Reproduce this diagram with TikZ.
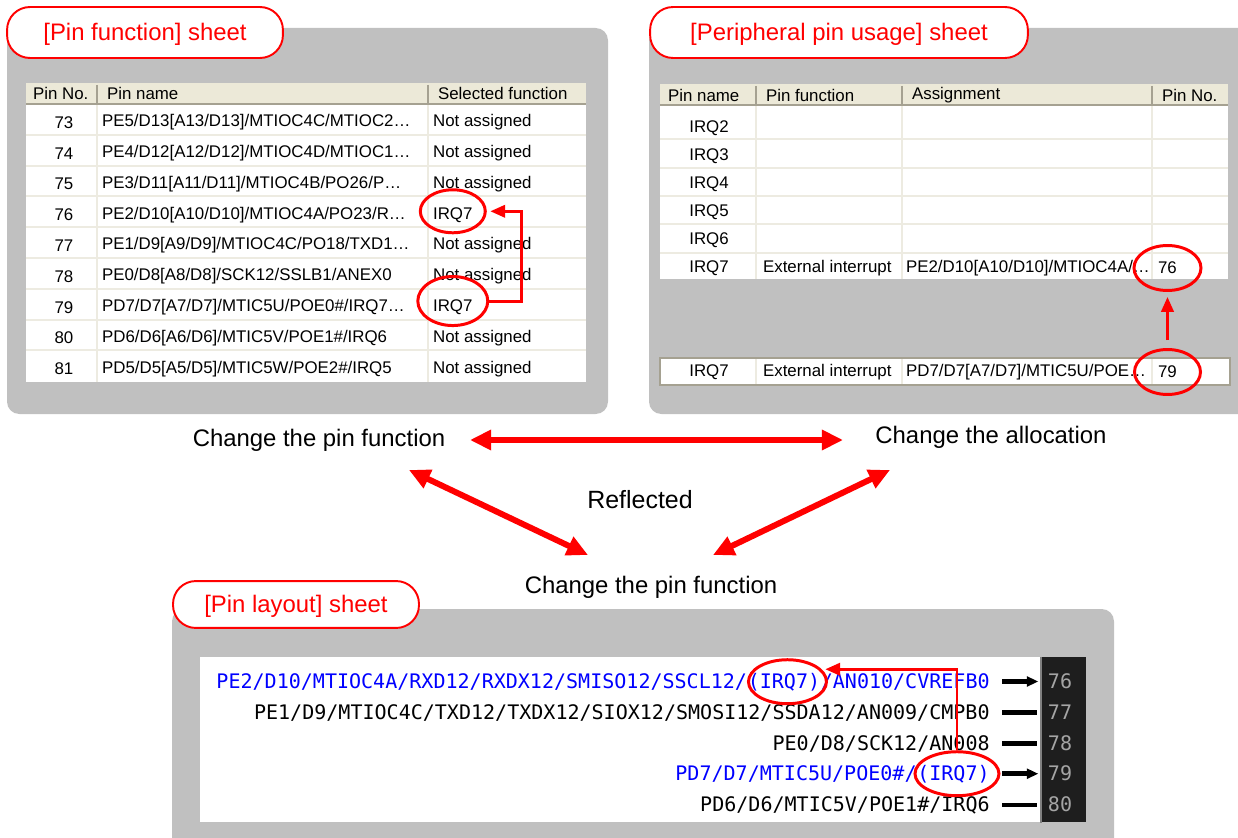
\documentclass[tikz,border=0pt]{standalone}
\usepackage{fontspec}
\setmainfont{Liberation Sans}
\newfontfamily\pinfont{DejaVu Sans Mono}
\usepackage{xcolor}
\usetikzlibrary{shapes.geometric, arrows.meta, positioning, calc}

\definecolor{panelgray}{RGB}{192,192,192}
\definecolor{headfill}{RGB}{236,233,216}
\definecolor{gridbeige}{RGB}{237,235,225}
\definecolor{headedge}{RGB}{165,161,145}
\definecolor{stripdark}{RGB}{30,30,30}
\definecolor{numgray}{RGB}{165,165,165}
\definecolor{pinblue}{RGB}{0,0,255}

\begin{document}
\begin{tikzpicture}[
    x=0.02cm, y=-0.02cm,
    panel/.style={fill=panelgray, rounded corners=7pt},
    sheettab/.style={draw=red, line width=1.1pt, fill=white, rounded corners=13pt, text=red, font=\fontsize{13.6}{16}\selectfont, minimum height=29pt, text height=10pt, text depth=1pt},
    txt/.style={font=\fontsize{13.6}{16}\selectfont},
    cell/.style={font=\fontsize{9.6}{11}\selectfont, inner sep=1pt},
    gridline/.style={draw=gridbeige, line width=1.1pt},
    headsep/.style={draw=headedge, line width=1.1pt},
    pinline/.style={font=\pinfont\fontsize{11.4}{13}\selectfont, inner xsep=0pt, inner ysep=1pt},
    pinnum/.style={font=\pinfont\fontsize{11.4}{13}\selectfont, text=numgray},
    ring/.style={ellipse, draw=red, line width=1.7pt, inner sep=0pt},
    redarrow/.style={-{Triangle[length=8.5pt,width=7pt]}, draw=red, line width=1.7pt},
    bigarrow/.style={{Triangle[length=12pt,width=11pt]}-{Triangle[length=12pt,width=11pt]}, draw=red, line width=3.4pt},
    stub/.style={line width=2.6pt},
    stubarrow/.style={stub, -{Triangle[length=6.5pt,width=5.5pt]}}
]
    \useasboundingbox (0,0) rectangle (1238,838);
    \clip (0,0) rectangle (1238,838);

    % Pin function sheet
    \fill[panel] (7,28) rectangle (608,414);
    \fill[white] (26,83) rectangle (586,382);
    \fill[headfill] (26,83) rectangle (586,104);
    \foreach \i in {1,...,8}
        \draw[gridline] (26,{104+30.8*\i}) -- (586,{104+30.8*\i});
    \foreach \x in {97,428} {
        \draw[gridline] (\x,104) -- (\x,382);
        \draw[headsep] (\x,85) -- (\x,103);
    }
    \draw[headsep] (26,104) -- (586,104);
    \node[cell, anchor=west] (hpno) at (31,93) {Pin No.};
    \node[cell, anchor=west] (hpname) at (105,93) {Pin name};
    \node[cell, anchor=west] (hsel) at (436,93) {Selected function};
    \foreach \num/\pname/\func [count=\i from 0] in {
        73/{PE5/D13[A13/D13]/MTIOC4C/MTIOC2…}/{Not assigned},
        74/{PE4/D12[A12/D12]/MTIOC4D/MTIOC1…}/{Not assigned},
        75/{PE3/D11[A11/D11]/MTIOC4B/PO26/P…}/{Not assigned},
        76/{PE2/D10[A10/D10]/MTIOC4A/PO23/R…}/IRQ7,
        77/{PE1/D9[A9/D9]/MTIOC4C/PO18/TXD1…}/{Not assigned},
        78/{PE0/D8[A8/D8]/SCK12/SSLB1/ANEX0}/{Not assigned},
        79/{PD7/D7[A7/D7]/MTIC5U/POE0\#/IRQ7…}/IRQ7,
        80/{PD6/D6[A6/D6]/MTIC5V/POE1\#/IRQ6}/{Not assigned},
        81/{PD5/D5[A5/D5]/MTIC5W/POE2\#/IRQ5}/{Not assigned}} {
        \node[cell] (pno\num) at (64,{122.4+30.8*\i}) {\num};
        \node[cell, anchor=west] (pname\num) at (100,{122.4+30.8*\i}) {\pname};
        \node[cell, anchor=west] (sel\num) at (431,{122.4+30.8*\i}) {\func};
    }
    \node[ring, minimum width=1.3cm, minimum height=0.86cm, yshift=2pt] (ringA) at (sel76) {};
    \node[ring, minimum width=1.4cm, minimum height=0.98cm, yshift=3.5pt] (ringB) at (sel79) {};
    \draw[redarrow, shorten >=2pt] (ringB.east) -- ++(32,0) |- (ringA.east);
    \node[sheettab, minimum width=157pt] (tabpf) at (145,32.5) {[Pin function] sheet};

    % Peripheral pin usage sheet
    \fill[panel] (649,28) rectangle (1260,414);
    \fill[white] (660,84) rectangle (1228,279);
    \fill[headfill] (660,84) rectangle (1228,105);
    \foreach \y in {139,168,196,224,253}
        \draw[gridline] (660,\y) -- (1228,\y);
    \foreach \x in {756,902,1152} {
        \draw[gridline] (\x,105) -- (\x,279);
        \draw[headsep] (\x,86) -- (\x,104);
    }
    \draw[headsep] (660,105) -- (1228,105);
    \node[cell, anchor=west] (hirq) at (666,95) {Pin name};
    \node[cell, anchor=west] (hfn) at (764,95) {Pin function};
    \node[cell, anchor=west] (has) at (910,95) {Assignment};
    \node[cell, anchor=west] (hno) at (1160,95) {Pin No.};
    \foreach \num [count=\i from 0] in {2,...,7}
        \node[cell] (irq\num) at (709,{128+28*\i}) {IRQ\num};
    \node[cell, anchor=west] (fn76) at (761,268) {External interrupt};
    \node[cell, anchor=west] (as76) at (904,268) {PE2/D10[A10/D10]/MTIOC4A/…};
    \node[cell, anchor=west] (no76) at (1156,268) {76};
    \draw[draw=headedge, fill=white, line width=1.1pt] (660,358) rectangle (1230,385);
    \foreach \x in {756,902,1152}
        \draw[gridline] (\x,359) -- (\x,384);
    \node[cell] (irqB) at (709,372) {IRQ7};
    \node[cell, anchor=west] (fn79) at (761,372) {External interrupt};
    \node[cell, anchor=west] (as79) at (904,372) {PD7/D7[A7/D7]/MTIC5U/POE…};
    \node[cell, anchor=west] (no79) at (1156,372) {79};
    \node[ring, minimum width=1.34cm, minimum height=0.9cm] (ringE) at (no76) {};
    \node[ring, minimum width=1.32cm, minimum height=0.9cm] (ringF) at (no79) {};
    \draw[redarrow, shorten <=4.5pt, shorten >=2.8pt] (ringF.north) -- (ringE.south);
    \node[sheettab, minimum width=215pt] (tabpu) at (839,32.5) {[Peripheral pin usage] sheet};

    % Links between the sheets
    \node[txt] (cpfA) at (319,440) {Change the pin function};
    \node[txt] (calloc) at (991,437) {Change the allocation};
    \node[txt, font=\fontsize{14.2}{17}\selectfont] (refl) at (640,500) {Reflected};
    \node[txt] (cpfB) at (651,587) {Change the pin function};
    \draw[bigarrow] ([shift={(151,0)}]cpfA.center) -- ([shift={(-148,3)}]calloc.center);
    \draw[bigarrow] ([shift={(90,30)}]cpfA.center) -- ([shift={(-63,-32)}]cpfB.center);
    \draw[bigarrow] ([shift={(-101,33)}]calloc.center) -- ([shift={(62,-32)}]cpfB.center);

    % Pin layout sheet
    \fill[panel] (172,609) rectangle (1114,860);
    \fill[white] (200,657) rectangle (1086,822);
    \node[fill=stripdark, minimum width=0.9cm, minimum height=3.3cm, inner sep=0pt, anchor=north west] (strip) at (1041,657) {};
    \draw[draw=gray, line width=1.5pt] (strip.north west) -- (strip.south west);
    \foreach \num/\y in {76/681,77/712,78/743,79/773,80/804}
        \node[pinnum] (n\num) at (1060,\y) {\num};
    \node[pinline, text=pinblue, anchor=base east] (p76c) at (990,688) {/AN010/CVREFB0};
    \node[pinline, text=pinblue, anchor=base east] (p76b) at (p76c.base west) {(IRQ7)};
    \node[pinline, text=pinblue, anchor=base east] (p76a) at (p76b.base west) {PE2/D10/MTIOC4A/RXD12/RXDX12/SMISO12/SSCL12/};
    \node[pinline, anchor=base east] (p77) at (990,719) {PE1/D9/MTIOC4C/TXD12/TXDX12/SIOX12/SMOSI12/SSDA12/AN009/CMPB0};
    \node[pinline, anchor=base east] (p78) at (990,750) {PE0/D8/SCK12/AN008};
    \node[pinline, text=pinblue, anchor=base east] (p79b) at (990,780) {(IRQ7)};
    \node[pinline, text=pinblue, anchor=base east] (p79a) at (p79b.base west) {PD7/D7/MTIC5U/POE0\#/};
    \node[pinline, anchor=base east] (p80) at (990,811) {PD6/D6/MTIC5V/POE1\#/IRQ6};
    \foreach \p in {p76c,p79b}
        \draw[stubarrow, shorten <=7pt, shorten >=1.5pt] (\p.east) -- (\p.east -| strip.west);
    \foreach \p in {p77,p78,p80}
        \draw[stub, shorten <=7pt, shorten >=2pt] (\p.east) -- (\p.east -| strip.west);
    \node[ring, minimum width=1.56cm, minimum height=0.88cm, xshift=2pt] (ringC) at (p76b) {};
    \node[ring, minimum width=1.68cm, minimum height=0.88cm, xshift=2pt] (ringD) at (p79b) {};
    \draw[redarrow, shorten >=2pt] (ringD.north) |- (ringC.20);
    \node[sheettab, minimum width=140pt, minimum height=26.7pt] (tabpl) at (296,604.5) {[Pin layout] sheet};

\end{tikzpicture}
\end{document}
